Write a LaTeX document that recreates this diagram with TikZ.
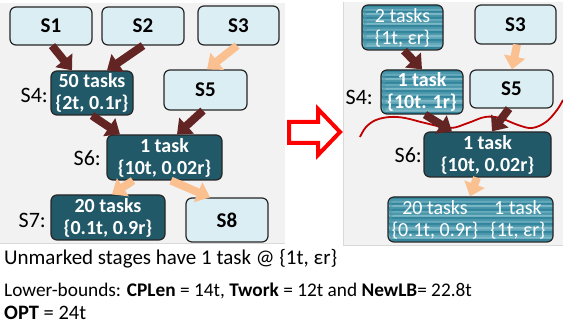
\documentclass[tikz,border=0pt]{standalone}
\usepackage{fontspec}
\setmainfont{Carlito}
\usetikzlibrary{arrows.meta,calc}
\definecolor{lightfill}{HTML}{DBEEF4}
\definecolor{darkfill}{HTML}{215968}
\definecolor{boxline}{HTML}{262626}
\definecolor{darkarrow}{HTML}{632523}
\definecolor{peach}{HTML}{FAC090}
\definecolor{panelfill}{HTML}{F2F2F2}
\definecolor{panelline}{HTML}{D9D9D9}
\definecolor{stripeA}{HTML}{31859C}
\definecolor{stripeB}{HTML}{66AABB}
\definecolor{stripeC}{HTML}{4A96AA}
\definecolor{stripeD}{HTML}{7DB8C6}
\definecolor{cutred}{HTML}{C00000}
\begin{document}
\begin{tikzpicture}[x=1pt,y=-1pt,
  box/.style={draw=boxline, line width=1.2pt, rounded corners=6pt, inner sep=0pt, align=center},
  lightbox/.style={box, fill=lightfill, text=black, font=\fontsize{21}{22}\selectfont\bfseries},
  darkbox/.style={box, fill=darkfill, text=white, font=\fontsize{20}{22}\selectfont\bfseries},
  stripebox/.style={box, fill=stripeC, text=white, font=\fontsize{20}{22}\selectfont,
    path picture={
      \foreach \c [count=\i] in {A,C,B,A,D,C,A,B,C,D,A,C,B,A,C,D,B,A,C,B,D,A,C,B,A,D,C,B,A,C}
        \fill[stripe\c] ($(path picture bounding box.north west)+(0,\i*2-2)$) rectangle ++(300,2);
    }},
  stagelabel/.style={anchor=east, inner sep=0pt, font=\fontsize{22}{24}\selectfont},
  darkarr/.style={draw=darkarrow, line width=8pt, -{Triangle[width=21pt,length=13pt]}},
  peacharr/.style={draw=peach, line width=8pt, -{Triangle[width=21pt,length=13pt]}},
  bottomtext/.style={anchor=base west, inner sep=0pt, font=\fontsize{20.5}{24}\selectfont},
]
\useasboundingbox (0,0) rectangle (563,331);
% panels
\fill[panelfill] (0,3) rectangle (285,243);
\draw[panelline, line width=0.8pt] (0,243) -- (285,243);
\fill[panelfill] (343,2) rectangle (563,245);
\draw[panelline, line width=0.8pt] (343,2) -- (343,245) -- (563,245);

% ---------- left panel ----------
\node[lightbox, minimum width=82, minimum height=38] (S1) at (51,26) {S1};
\node[lightbox, minimum width=82, minimum height=38] (S2) at (143,26) {S2};
\node[lightbox, minimum width=81, minimum height=39] (S3) at (238.5,25.5) {S3};
\node[darkbox, minimum width=82, minimum height=44] (S4) at (92,93) {50 tasks\\\{2t, 0.1r\}};
\node[lightbox, minimum width=83, minimum height=40] (S5) at (205.5,90) {S5};
\node[darkbox, minimum width=115, minimum height=45] (S6) at (164.5,157.5) {1 task\\\{10t, 0.02r\}};
\node[darkbox, minimum width=114, minimum height=45] (S7) at (108,217.5) {20 tasks\\\{0.1t, 0.9r\}};
\node[lightbox, minimum width=82, minimum height=44] (S8) at (227,220) {S8};

\node[stagelabel] (L4) at (48,95) {S4:};
\node[stagelabel] (L6) at (101,158) {S6:};
\node[stagelabel] (L7) at (46,220) {S7:};

\draw[darkarr] ([xshift=1]S1.south) -- ([xshift=-20]S4.north);
\draw[darkarr] ([xshift=0]S2.south) -- ([xshift=15]S4.north);
\draw[peacharr] ([xshift=-1.5]S3.south) -- ([xshift=1.5]S5.north);
\draw[darkarr] ([xshift=0]S4.south) -- ([xshift=-44.5]S6.north);
\draw[darkarr] ([xshift=-2.5]S5.south) -- ([xshift=12.5]S6.north);
\draw[peacharr] ([xshift=-31.5]S6.south) -- ([xshift=4]S7.north);
\draw[peacharr] ([xshift=6.5]S6.south) -- ([xshift=-17]S8.north);

% ---------- transform arrow ----------
\draw[red, line width=4pt, fill=white, line join=miter]
  (289,122) -- (318,122) -- (318,109) -- (340,132) -- (318,155) -- (318,143) -- (289,143) -- cycle;

% ---------- right panel ----------
\node[stripebox, minimum width=81, minimum height=45] (T2) at (402.5,27.5) {2 tasks\\\{1t, εr\}};
\node[lightbox, minimum width=81, minimum height=39] (R3) at (515.5,24.5) {S3};
\node[stripebox, minimum width=82, minimum height=44, font=\fontsize{20}{22}\selectfont\bfseries] (R4) at (422,92) {1 task\\\{10t. 1r\}};
\node[lightbox, minimum width=83, minimum height=38] (R5) at (511.5,89) {S5};
\node[stripebox, minimum width=165, minimum height=45] (R7) at (470.5,219.5) {};
\node[text=white, align=center, inner sep=0pt, font=\fontsize{20}{22}\selectfont] (R7a) at (435,219.5) {20 tasks\\\{0.1t, 0.9r\}};
\node[text=white, align=center, inner sep=0pt, font=\fontsize{20}{22}\selectfont] (R7b) at (518,219.5) {1 task\\\{1t, εr\}};

\node[stagelabel] (RL4) at (373,97) {S4:};
\node[stagelabel] (RL6) at (422,155) {S6:};

% red cut curve
\draw[cutred, line width=1.8pt] plot[smooth, tension=0.6] coordinates
  {(360,137) (366,127) (376,120) (390,117) (405,118) (425,123) (450,128) (468,123) (485,117) (500,118) (518,125) (532,128) (546,122) (557,110) (563,100)};

\node[darkbox, minimum width=127, minimum height=45] (R6) at (487.5,154.5) {1 task\\\{10t, 0.02r\}};

\draw[darkarr] ([xshift=1.5]T2.south) -- ([xshift=0]R4.north);
\draw[peacharr] ([xshift=1.5]R3.south) -- ([xshift=0.5]R5.north);
\draw[darkarr] ([xshift=3]R4.south) -- ([xshift=-35.5]R6.north);
\draw[darkarr] ([xshift=-2.5]R5.south) -- ([xshift=4.5]R6.north);
\draw[peacharr] ([xshift=-10.5]R6.south) -- ([xshift=-0.5]R7.north);

% ---------- bottom text ----------
\node[bottomtext, font=\fontsize{21}{24}\selectfont] (t1) at (4,265) {Unmarked stages have 1 task @ \{1t, εr\}};
\node[bottomtext, font=\fontsize{19.3}{24}\selectfont] (t2) at (4,297) {Lower-bounds: \textbf{CPLen} = 14t, \textbf{Twork} = 12t and \textbf{NewLB}= 22.8t};
\node[bottomtext] (t3) at (4,320) {\textbf{OPT} = 24t};
\end{tikzpicture}
\end{document}
